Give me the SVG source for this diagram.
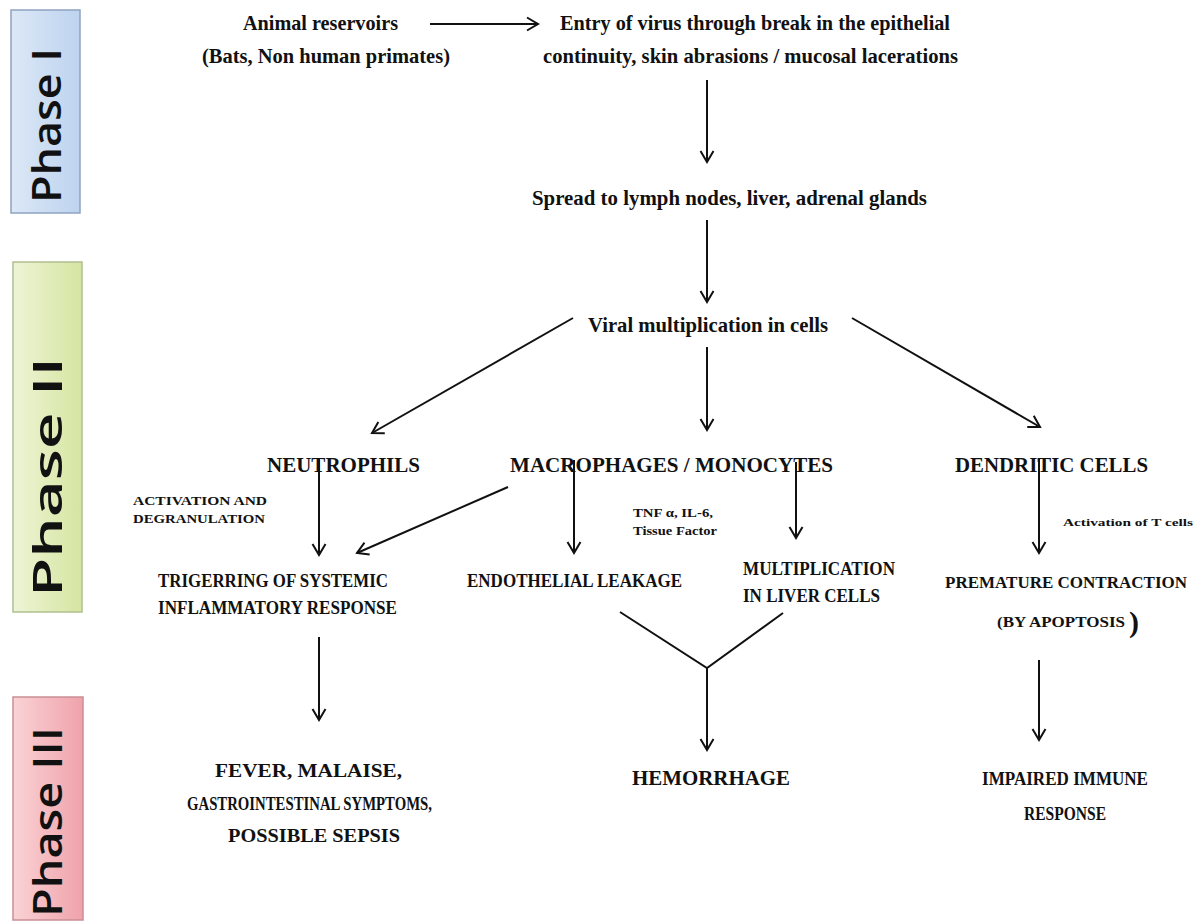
<svg xmlns="http://www.w3.org/2000/svg" width="1202" height="922" viewBox="0 0 1202 922">
<style>
.t{font-family:"Liberation Serif","Times New Roman",serif;font-weight:bold;fill:#111;}
.b{font-size:21px;}
.m{font-size:19.5px;}
.s{font-size:12px;}
.ph{font-family:"Open Sans","Noto Sans","DejaVu Sans",sans-serif;font-weight:600;font-size:40px;fill:#111;text-anchor:middle;}
.c{fill:none;stroke:#111;stroke-width:2;}
.ca{fill:none;stroke:#111;stroke-width:2;marker-end:url(#ah);}
</style>
<defs>
<marker id="ah" markerUnits="userSpaceOnUse" markerWidth="18" markerHeight="18" refX="13" refY="8" orient="auto">
<path d="M2,1.5 L13,8 L2,14.5" fill="none" stroke="#111" stroke-width="2"/>
</marker>
<linearGradient id="g1" x1="0" y1="0" x2="1" y2="0">
<stop offset="0" stop-color="#dce8f6"/><stop offset="1" stop-color="#bdd3ef"/>
</linearGradient>
<linearGradient id="g2" x1="0" y1="0" x2="1" y2="0">
<stop offset="0" stop-color="#eef4d6"/><stop offset="1" stop-color="#d5e5a1"/>
</linearGradient>
<linearGradient id="g3" x1="0" y1="0" x2="1" y2="0">
<stop offset="0" stop-color="#f9d3d6"/><stop offset="1" stop-color="#f0a2aa"/>
</linearGradient>
</defs>
<rect width="1202" height="922" fill="#fff"/>

<g id="phase1">
<rect x="11" y="10" width="69" height="203" fill="url(#g1)" stroke="#8fa3c0" stroke-width="1.5"/>
<text class="ph" transform="translate(61,125.5) rotate(-90)" textLength="155" lengthAdjust="spacingAndGlyphs">Phase I</text>
</g>
<g id="phase2">
<rect x="13" y="262" width="69" height="350" fill="url(#g2)" stroke="#b0bf90" stroke-width="1.5"/>
<text class="ph" transform="translate(62,477) rotate(-90)" textLength="240" lengthAdjust="spacingAndGlyphs">Phase II</text>
</g>
<g id="phase3">
<rect x="13" y="697" width="70" height="223" fill="url(#g3)" stroke="#c98e95" stroke-width="1.5"/>
<text class="ph" transform="translate(62,822) rotate(-90)" textLength="190" lengthAdjust="spacingAndGlyphs">Phase III</text>
</g>

<g id="connectors">
<line class="ca" x1="430" y1="24" x2="538" y2="24"/>
<line class="ca" x1="707" y1="80" x2="707" y2="162"/>
<line class="ca" x1="707" y1="220" x2="707" y2="302"/>
<line class="ca" x1="573" y1="318" x2="372" y2="433"/>
<line class="ca" x1="707" y1="347" x2="707" y2="430"/>
<line class="ca" x1="852" y1="318" x2="1040" y2="427"/>
<line class="ca" x1="319" y1="458" x2="319" y2="555"/>
<line class="ca" x1="508" y1="487" x2="357" y2="553"/>
<line class="ca" x1="574" y1="460" x2="574" y2="553"/>
<line class="ca" x1="796" y1="462" x2="796" y2="538"/>
<line class="ca" x1="1039" y1="458" x2="1039" y2="553"/>
<polyline class="c" points="620,612 707,668 783,613"/>
<line class="ca" x1="707" y1="668" x2="707" y2="750"/>
<line class="ca" x1="319" y1="637" x2="319" y2="720"/>
<line class="ca" x1="1039" y1="660" x2="1039" y2="740"/>
</g>

<g id="animal">
<text class="t b" x="243" y="30" textLength="155" lengthAdjust="spacingAndGlyphs">Animal reservoirs</text>
<text class="t b" x="202" y="63" textLength="248" lengthAdjust="spacingAndGlyphs">(Bats, Non human primates)</text>
</g>
<g id="entry">
<text class="t b" x="560" y="30" textLength="390" lengthAdjust="spacingAndGlyphs">Entry of virus through break in the epithelial</text>
<text class="t b" x="543" y="63" textLength="415" lengthAdjust="spacingAndGlyphs">continuity, skin abrasions / mucosal lacerations</text>
</g>
<g id="spread">
<text class="t b" x="532" y="205" textLength="395" lengthAdjust="spacingAndGlyphs">Spread to lymph nodes, liver, adrenal glands</text>
</g>
<g id="viral">
<text class="t b" x="588" y="332" textLength="240" lengthAdjust="spacingAndGlyphs">Viral multiplication in cells</text>
</g>
<g id="neutrophils">
<text class="t b" x="267" y="472" textLength="153" lengthAdjust="spacingAndGlyphs">NEUTROPHILS</text>
</g>
<g id="macrophages">
<text class="t b" x="510" y="472" textLength="323" lengthAdjust="spacingAndGlyphs">MACROPHAGES / MONOCYTES</text>
</g>
<g id="dendritic">
<text class="t b" x="955" y="472" textLength="193" lengthAdjust="spacingAndGlyphs">DENDRITIC CELLS</text>
</g>
<g id="label-activation">
<text class="t s" x="133" y="505" textLength="134" lengthAdjust="spacingAndGlyphs">ACTIVATION AND</text>
<text class="t s" x="133" y="523" textLength="132" lengthAdjust="spacingAndGlyphs">DEGRANULATION</text>
</g>
<g id="label-tnf">
<text class="t s" x="633" y="517" textLength="80" lengthAdjust="spacingAndGlyphs">TNF α, IL-6,</text>
<text class="t s" x="633" y="535" textLength="84" lengthAdjust="spacingAndGlyphs">Tissue Factor</text>
</g>
<g id="label-tcells">
<text class="t" font-size="11" x="1063" y="526" textLength="130" lengthAdjust="spacingAndGlyphs">Activation of T cells</text>
</g>
<g id="triggering">
<text class="t m" x="158" y="587" textLength="230" lengthAdjust="spacingAndGlyphs">TRIGERRING OF SYSTEMIC</text>
<text class="t m" x="158" y="614" textLength="239" lengthAdjust="spacingAndGlyphs">INFLAMMATORY RESPONSE</text>
</g>
<g id="endothelial">
<text class="t m" x="467" y="587" textLength="215" lengthAdjust="spacingAndGlyphs">ENDOTHELIAL LEAKAGE</text>
</g>
<g id="multiplication">
<text class="t m" x="743" y="575" textLength="152" lengthAdjust="spacingAndGlyphs">MULTIPLICATION</text>
<text class="t m" x="743" y="602" textLength="137" lengthAdjust="spacingAndGlyphs">IN LIVER CELLS</text>
</g>
<g id="premature">
<text class="t" font-size="16.5" x="945" y="588" textLength="242" lengthAdjust="spacingAndGlyphs">PREMATURE CONTRACTION</text>
<text class="t" font-size="15" x="997" y="627" textLength="128" lengthAdjust="spacingAndGlyphs">(BY APOPTOSIS</text>
<text class="t" font-size="30" x="1129" y="632">)</text>
</g>
<g id="fever">
<text class="t m" x="215" y="777" textLength="187" lengthAdjust="spacingAndGlyphs">FEVER, MALAISE,</text>
<text class="t m" x="187" y="810" textLength="245" lengthAdjust="spacingAndGlyphs">GASTROINTESTINAL SYMPTOMS,</text>
<text class="t m" x="228" y="842" textLength="172" lengthAdjust="spacingAndGlyphs">POSSIBLE SEPSIS</text>
</g>
<g id="hemorrhage">
<text class="t b" x="632" y="785" textLength="158" lengthAdjust="spacingAndGlyphs">HEMORRHAGE</text>
</g>
<g id="impaired">
<text class="t m" x="982" y="785" textLength="166" lengthAdjust="spacingAndGlyphs">IMPAIRED IMMUNE</text>
<text class="t m" x="1024" y="820" textLength="82" lengthAdjust="spacingAndGlyphs">RESPONSE</text>
</g>
</svg>
